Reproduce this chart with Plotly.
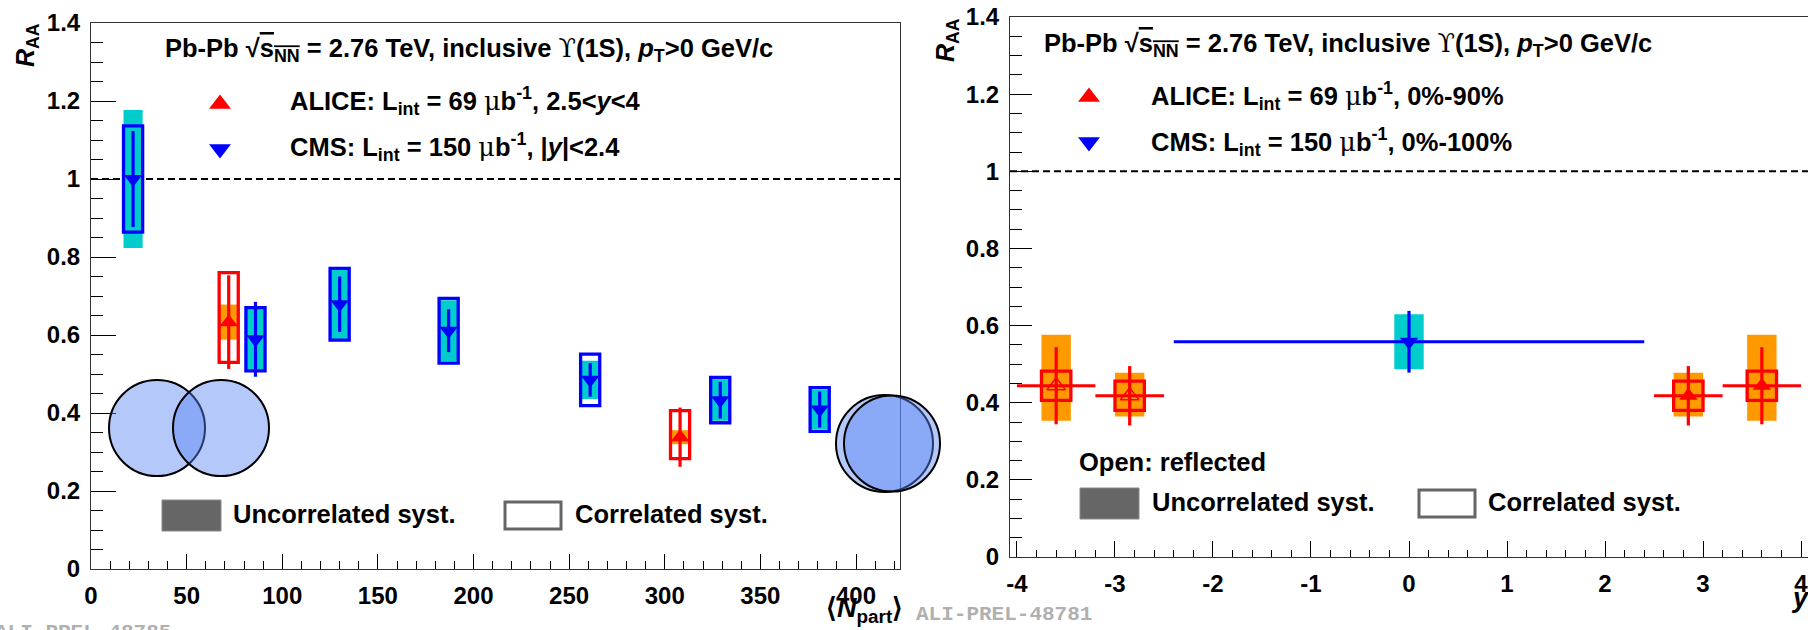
import plotly.graph_objects as go

# ---------------- data: left panel, R_AA vs <Npart> ----------------
cms_npart = [22, 86, 130, 187, 261, 329, 381]
cms_raa = [1.000, 0.589, 0.679, 0.611, 0.485, 0.433, 0.409]
cms_stat = [0.123, 0.096, 0.071, 0.055, 0.043, 0.047, 0.046]
cms_uncorr = [0.177, 0.080, 0.089, 0.078, 0.049, 0.053, 0.051]
cms_corr = [0.136, 0.081, 0.092, 0.083, 0.066, 0.058, 0.056]

alice_npart = [72, 308]
alice_raa = [0.633, 0.338]
alice_stat = [0.120, 0.076]
alice_uncorr = [0.045, 0.018]
alice_corr_minus = [0.103, 0.055]
alice_corr_plus = [0.127, 0.068]

# ---------------- data: right panel, R_AA vs y ----------------
alice_y = [2.85, 3.6]
alice_y_halfbin = [0.35, 0.40]
alice_raa_y = [0.418, 0.444]
alice_stat_y = [0.077, 0.100]
alice_uncorr_y_minus = [0.054, 0.091]
alice_uncorr_y_plus = [0.060, 0.132]
alice_corr_y = [0.038, 0.038]

cms_y = [0.0]
cms_y_halfbin = [2.4]
cms_raa_y = [0.558]
cms_stat_y = [0.080]
cms_uncorr_y = [0.0715]

# ---------------- ticks ----------------
raa_ticks = [0, 0.2, 0.4, 0.6, 0.8, 1.0, 1.2, 1.4]
raa_ticktext = ["0", "0.2", "0.4", "0.6", "0.8", "1", "1.2", "1.4"]
npart_ticks = [0, 50, 100, 150, 200, 250, 300, 350, 400]
y_ticks = [-4, -3, -2, -1, 0, 1, 2, 3, 4]
y_ticktext = ["-4", "-3", "-2", "-1", "0", "1", "2", "3", "4"]

# ---------------- style ----------------
W, H = 1808, 630
RED, BLUE = "#ff0000", "#0000ff"
CYAN, ORANGE = "#00cccc", "#ff9900"
FONT = "Liberation Sans"
FS = 25.5
HW_L = 5.0      # half-width of syst boxes in Npart units
HW_R = 0.15     # half-width of syst boxes in y units
BOX_LW = 3.3

def PX(x):
    return x / W

def PY(y):
    return 1 - y / H

fig = go.Figure()
shapes = []

def rect(xref, yref, x0, x1, y0, y1, fill=None, line=None, lw=BOX_LW, layer="below"):
    d = dict(type="rect", xref=xref, yref=yref, x0=x0, x1=x1, y0=y0, y1=y1, layer=layer)
    if fill:
        d["fillcolor"] = fill
        d["line"] = dict(width=0)
    else:
        d["line"] = dict(color=line, width=lw)
    return d

# left panel boxes
for n, r, u in zip(cms_npart, cms_raa, cms_uncorr):
    shapes.append(rect("x", "y", n - HW_L, n + HW_L, r - u, r + u, fill=CYAN))
for n, r, u in zip(alice_npart, alice_raa, alice_uncorr):
    shapes.append(rect("x", "y", n - HW_L, n + HW_L, r - u, r + u, fill=ORANGE))
for n, r, c in zip(cms_npart, cms_raa, cms_corr):
    shapes.append(rect("x", "y", n - HW_L, n + HW_L, r - c, r + c, line=BLUE))
for n, r, cm, cp in zip(alice_npart, alice_raa, alice_corr_minus, alice_corr_plus):
    shapes.append(rect("x", "y", n - HW_L, n + HW_L, r - cm, r + cp, line=RED))

# right panel boxes (measured and reflected)
for sgn in (-1, 1):
    for yy, r, um, up in zip(alice_y, alice_raa_y, alice_uncorr_y_minus, alice_uncorr_y_plus):
        shapes.append(rect("x2", "y2", sgn * yy - HW_R, sgn * yy + HW_R, r - um, r + up, fill=ORANGE))
    for yy, r, c in zip(alice_y, alice_raa_y, alice_corr_y):
        shapes.append(rect("x2", "y2", sgn * yy - HW_R, sgn * yy + HW_R, r - c, r + c, line=RED))
for yy, r, u in zip(cms_y, cms_raa_y, cms_uncorr_y):
    shapes.append(rect("x2", "y2", yy - HW_R, yy + HW_R, r - u, r + u, fill=CYAN))

# unity lines
for xr, yr in (("x domain", "y"), ("x2 domain", "y2")):
    shapes.append(dict(type="line", xref=xr, yref=yr, x0=0, x1=1, y0=1, y1=1,
                       line=dict(color="black", width=2, dash="7px,4px"), layer="below"))

# ---------------- traces ----------------
fig.add_trace(go.Scatter(x=cms_npart, y=cms_raa, mode="markers", xaxis="x", yaxis="y",
                         marker=dict(symbol="triangle-down", color=BLUE, size=16),
                         error_y=dict(type="data", array=cms_stat, thickness=3.2, width=0, color=BLUE),
                         showlegend=False))
fig.add_trace(go.Scatter(x=alice_npart, y=alice_raa, mode="markers", xaxis="x", yaxis="y",
                         marker=dict(symbol="triangle-up", color=RED, size=16),
                         error_y=dict(type="data", array=alice_stat, thickness=3.2, width=0, color=RED),
                         showlegend=False))

fig.add_trace(go.Scatter(x=cms_y, y=cms_raa_y, mode="markers", xaxis="x2", yaxis="y2",
                         marker=dict(symbol="triangle-down", color=BLUE, size=16),
                         error_y=dict(type="data", array=cms_stat_y, thickness=3.2, width=0, color=BLUE),
                         error_x=dict(type="data", array=cms_y_halfbin, thickness=3.2, width=0, color=BLUE),
                         showlegend=False))
fig.add_trace(go.Scatter(x=alice_y, y=alice_raa_y, mode="markers", xaxis="x2", yaxis="y2",
                         marker=dict(symbol="triangle-up", color=RED, size=16),
                         error_y=dict(type="data", array=alice_stat_y, thickness=3.2, width=0, color=RED),
                         error_x=dict(type="data", array=alice_y_halfbin, thickness=3.2, width=0, color=RED),
                         showlegend=False))
fig.add_trace(go.Scatter(x=[-v for v in alice_y], y=alice_raa_y, mode="markers", xaxis="x2", yaxis="y2",
                         marker=dict(symbol="triangle-up-open", color=RED, size=16, line=dict(width=1.5)),
                         error_y=dict(type="data", array=alice_stat_y, thickness=3.2, width=0, color=RED),
                         error_x=dict(type="data", array=alice_y_halfbin, thickness=3.2, width=0, color=RED),
                         showlegend=False))

# legend markers on a pixel overlay axis pair
fig.add_trace(go.Scatter(x=[220, 220, 1089, 1089], y=[104, 149, 97, 142], mode="markers",
                         xaxis="x3", yaxis="y3",
                         marker=dict(symbol=["triangle-up", "triangle-down", "triangle-up", "triangle-down"],
                                     color=[RED, BLUE, RED, BLUE], size=19),
                         showlegend=False, hoverinfo="skip"))

# legend boxes (paper coords from pixel positions)
def prect(x0, x1, y0, y1, **kw):
    d = dict(type="rect", xref="paper", yref="paper", x0=PX(x0), x1=PX(x1), y0=PY(y1), y1=PY(y0),
             layer="above")
    d.update(kw)
    return d

shapes.append(prect(162, 221, 500, 531, fillcolor="#666666", line=dict(color="#888888", width=1)))
shapes.append(prect(505, 561, 502, 529, line=dict(color="#666666", width=3)))
shapes.append(prect(1080, 1139, 488, 519, fillcolor="#666666", line=dict(color="#888888", width=1)))
shapes.append(prect(1419, 1475, 490, 517, line=dict(color="#666666", width=3)))

# overlap illustrations (circles)
CIRC_FILL = "rgba(85,130,244,0.44)"
for cx, cy, r in ((157, 428, 48), (221, 428, 48), (884.5, 443.5, 48.5), (892, 443.5, 48)):
    c = prect(cx - r, cx + r, cy - r, cy + r, fillcolor=CIRC_FILL, line=dict(color="black", width=2))
    c["type"] = "circle"
    shapes.append(c)

# ---------------- texts ----------------
ann = []
def txt(x, y, s, size=FS, xanchor="left", color="black", family=FONT, weight="bold", angle=0,
        xshift=0, yshift=0):
    ann.append(dict(x=PX(x), y=PY(y), xref="paper", yref="paper", text=s, showarrow=False,
                    xanchor=xanchor, yanchor="middle", textangle=angle, xshift=xshift, yshift=yshift,
                    font=dict(family=family, size=size, color=color, weight=weight)))

SYM = "<span style='font-family:DejaVu Serif;font-weight:normal'>{}</span>"
MU = SYM.format("μ")
header = ("Pb-Pb √<span style='text-decoration:overline'>s<sub>NN</sub></span> = 2.76 TeV, "
          "inclusive " + SYM.format("ϒ") + "(1S), <i>p</i><sub>T</sub>&gt;0 GeV/c")
txt(163, 50, header)
txt(288, 101, "ALICE: L<sub>int</sub> = 69 " + MU + "b<sup>-1</sup>, 2.5&lt;<i>y</i>&lt;4")
txt(288, 147, "CMS: L<sub>int</sub> = 150 " + MU + "b<sup>-1</sup>, |<i>y</i>|&lt;2.4")
txt(231, 514, "Uncorrelated syst.")
txt(573, 514, "Correlated syst.")

txt(1042, 45, header)
txt(1149, 96, "ALICE: L<sub>int</sub> = 69 " + MU + "b<sup>-1</sup>, 0%-90%")
txt(1149, 142, "CMS: L<sub>int</sub> = 150 " + MU + "b<sup>-1</sup>, 0%-100%")
txt(1077, 462, "Open: reflected")
txt(1150, 502, "Uncorrelated syst.")
txt(1486, 502, "Correlated syst.")

# axis titles
txt(27, 45, "<i>R</i><sub>AA</sub>", size=25, xanchor="center", angle=-90)
txt(947, 40, "<i>R</i><sub>AA</sub>", size=25, xanchor="center", angle=-90)
txt(864, 610, "⟨<i>N</i><sub>part</sub>⟩", size=27, xanchor="center")
txt(1800, 598, "<i>y</i>", size=27, xanchor="center")

# preliminary ids
txt(0, 630, "ALI-PREL-48785", size=21, family="Liberation Mono", color="#b0b0b0", xshift=-7, yshift=-2)
txt(914, 614, "ALI-PREL-48781", size=21, family="Liberation Mono", color="#b0b0b0")

# ---------------- axes ----------------
tickfont = dict(family=FONT, size=24, color="black", weight="bold")
axcommon = dict(showgrid=False, zeroline=False, showline=True, linecolor="#333333", linewidth=1,
                mirror=True, ticks="inside", tickcolor="black", tickwidth=1, tickfont=tickfont,
                ticklabelstandoff=5, ticklabeloverflow="allow", fixedrange=True, automargin=False)

fig.update_layout(
    width=W, height=H, autosize=False,
    margin=dict(l=0, r=0, t=0, b=0, pad=0, autoexpand=False),
    paper_bgcolor="white", plot_bgcolor="rgba(0,0,0,0)", showlegend=False,
    xaxis=dict(axcommon, domain=[PX(91), PX(900)], range=[0, 423], anchor="y",
               tickvals=npart_ticks, ticklen=15,
               minor=dict(ticks="inside", ticklen=8, dtick=10, tickcolor="black")),
    yaxis=dict(axcommon, domain=[PY(569), PY(23)], range=[0, 1.4], anchor="x",
               tickvals=raa_ticks, ticktext=raa_ticktext, ticklen=25,
               minor=dict(ticks="inside", ticklen=12, dtick=0.05, tickcolor="black")),
    xaxis2=dict(axcommon, domain=[PX(1010), 1.0], range=[-4.071, 4.071], anchor="y2",
                tickvals=y_ticks, ticktext=y_ticktext, ticklen=16,
                minor=dict(ticks="inside", ticklen=7, dtick=0.2, tickcolor="black")),
    yaxis2=dict(axcommon, domain=[PY(557), PY(17)], range=[0, 1.4], anchor="x2",
                tickvals=raa_ticks, ticktext=raa_ticktext, ticklen=22,
                minor=dict(ticks="inside", ticklen=12, dtick=0.05, tickcolor="black")),
    xaxis3=dict(domain=[0, 1], range=[0, W], visible=False, anchor="y3", fixedrange=True),
    yaxis3=dict(domain=[0, 1], range=[H, 0], visible=False, anchor="x3", fixedrange=True),
    shapes=shapes, annotations=ann,
)

fig.write_html("out.html",
               post_script="document.body.style.margin='0';document.body.style.overflow='hidden';")
